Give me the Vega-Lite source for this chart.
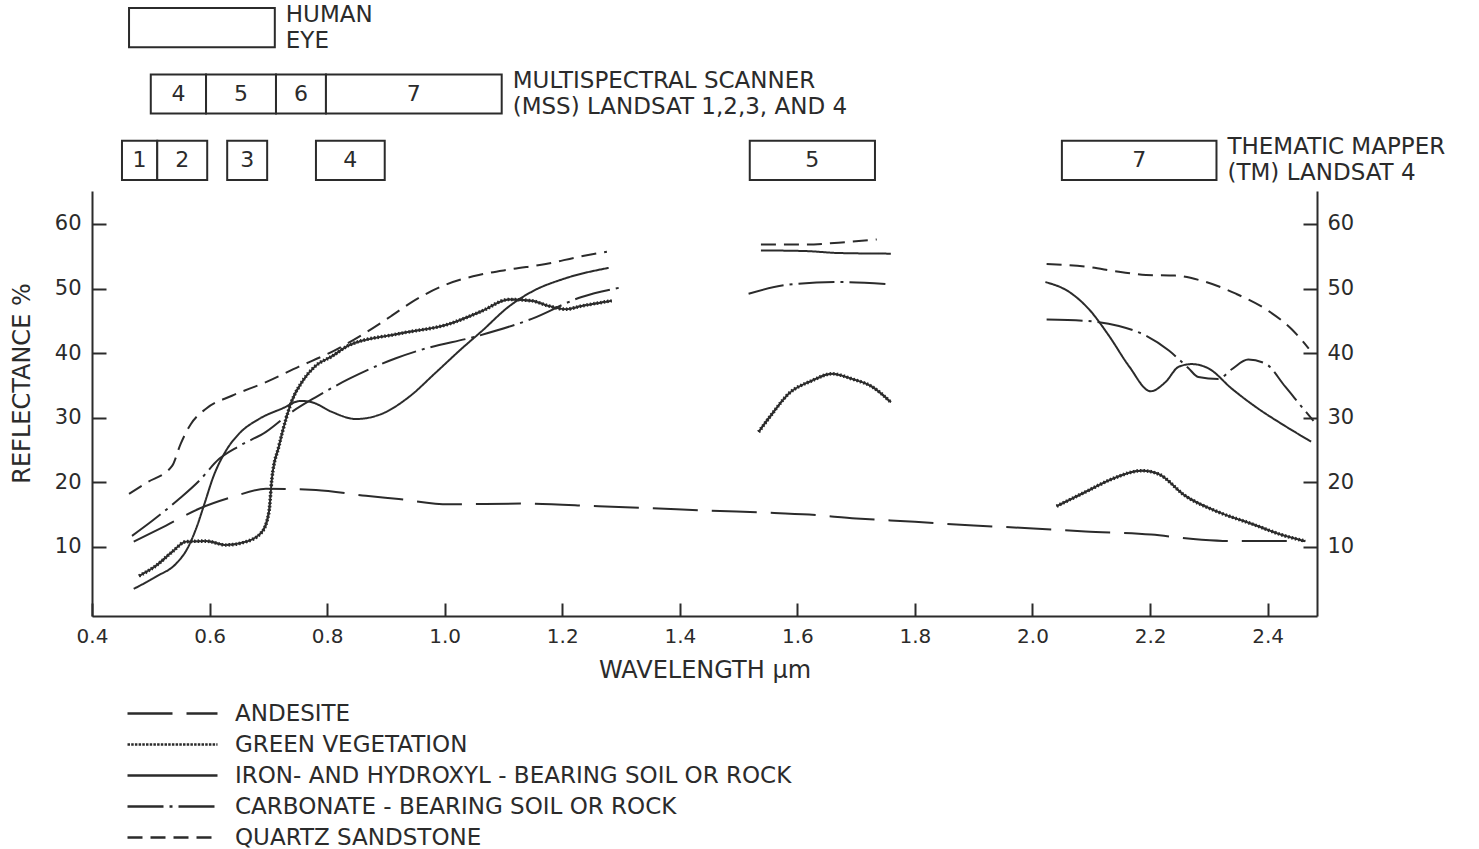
{
  "$schema": "https://vega.github.io/schema/vega-lite/v6.json",
  "background": "#ffffff",
  "padding": {"left": 10, "top": 3, "right": 5, "bottom": 2},
  "spacing": 5,
  "config": {
    "view": {"stroke": null},
    "font": "DejaVu Sans",
    "axis": {"domainColor": "#2b2b2b", "domainWidth": 2, "tickColor": "#2b2b2b", "tickWidth": 2, "labelColor": "#2b2b2b", "titleColor": "#2b2b2b", "labelFont": "DejaVu Sans", "titleFont": "DejaVu Sans", "labelFontSize": 20, "titleFontSize": 24, "titleFontWeight": "normal", "grid": false, "labelFlush": false}
  },
  "datasets": {
    "bands": [
      {"sensor": "HUMAN EYE", "band": "", "start": 0.463, "end": 0.711, "mid": 0.587},
      {"sensor": "MSS", "band": "4", "start": 0.500, "end": 0.594, "mid": 0.547},
      {"sensor": "MSS", "band": "5", "start": 0.594, "end": 0.713, "mid": 0.6535},
      {"sensor": "MSS", "band": "6", "start": 0.713, "end": 0.798, "mid": 0.7555},
      {"sensor": "MSS", "band": "7", "start": 0.798, "end": 1.097, "mid": 0.9475},
      {"sensor": "TM", "band": "1", "start": 0.451, "end": 0.511, "mid": 0.481},
      {"sensor": "TM", "band": "2", "start": 0.511, "end": 0.596, "mid": 0.5535},
      {"sensor": "TM", "band": "3", "start": 0.630, "end": 0.698, "mid": 0.664},
      {"sensor": "TM", "band": "4", "start": 0.781, "end": 0.898, "mid": 0.8395},
      {"sensor": "TM", "band": "5", "start": 1.519, "end": 1.732, "mid": 1.6255},
      {"sensor": "TM", "band": "7", "start": 2.050, "end": 2.313, "mid": 2.1815}
    ],
    "sensors": [
      {"sensor": "HUMAN EYE", "end": 0.711, "label": "HUMAN\nEYE"},
      {"sensor": "MSS", "end": 1.097, "label": "MULTISPECTRAL SCANNER\n(MSS) LANDSAT 1,2,3, AND 4"},
      {"sensor": "TM", "end": 2.313, "label": "THEMATIC MAPPER\n(TM) LANDSAT 4"}
    ],
    "curves": [
      {"m": "ANDESITE", "s": "a", "x": 0.471, "y": 10.8},
      {"m": "ANDESITE", "s": "a", "x": 0.526, "y": 13.3},
      {"m": "ANDESITE", "s": "a", "x": 0.582, "y": 15.9},
      {"m": "ANDESITE", "s": "a", "x": 0.638, "y": 17.7},
      {"m": "ANDESITE", "s": "a", "x": 0.696, "y": 19.0},
      {"m": "ANDESITE", "s": "a", "x": 0.781, "y": 18.8},
      {"m": "ANDESITE", "s": "a", "x": 0.866, "y": 17.9},
      {"m": "ANDESITE", "s": "a", "x": 0.922, "y": 17.4},
      {"m": "ANDESITE", "s": "a", "x": 1.007, "y": 16.6},
      {"m": "ANDESITE", "s": "a", "x": 1.131, "y": 16.7},
      {"m": "ANDESITE", "s": "a", "x": 1.262, "y": 16.3},
      {"m": "ANDESITE", "s": "a", "x": 1.350, "y": 16.0},
      {"m": "ANDESITE", "s": "a", "x": 1.450, "y": 15.6},
      {"m": "ANDESITE", "s": "a", "x": 1.550, "y": 15.3},
      {"m": "ANDESITE", "s": "a", "x": 1.620, "y": 15.0},
      {"m": "ANDESITE", "s": "a", "x": 1.700, "y": 14.4},
      {"m": "ANDESITE", "s": "a", "x": 1.800, "y": 13.9},
      {"m": "ANDESITE", "s": "a", "x": 1.900, "y": 13.3},
      {"m": "ANDESITE", "s": "a", "x": 1.994, "y": 12.9},
      {"m": "ANDESITE", "s": "a", "x": 2.090, "y": 12.4},
      {"m": "ANDESITE", "s": "a", "x": 2.202, "y": 11.9},
      {"m": "ANDESITE", "s": "a", "x": 2.288, "y": 11.1},
      {"m": "ANDESITE", "s": "a", "x": 2.339, "y": 10.9},
      {"m": "ANDESITE", "s": "a", "x": 2.400, "y": 10.9},
      {"m": "ANDESITE", "s": "a", "x": 2.464, "y": 10.9},

      {"m": "GREEN VEGETATION", "s": "a", "x": 0.480, "y": 5.5},
      {"m": "GREEN VEGETATION", "s": "a", "x": 0.509, "y": 7.1},
      {"m": "GREEN VEGETATION", "s": "a", "x": 0.536, "y": 9.2},
      {"m": "GREEN VEGETATION", "s": "a", "x": 0.560, "y": 10.8},
      {"m": "GREEN VEGETATION", "s": "a", "x": 0.594, "y": 10.9},
      {"m": "GREEN VEGETATION", "s": "a", "x": 0.628, "y": 10.3},
      {"m": "GREEN VEGETATION", "s": "a", "x": 0.662, "y": 10.8},
      {"m": "GREEN VEGETATION", "s": "a", "x": 0.689, "y": 12.3},
      {"m": "GREEN VEGETATION", "s": "a", "x": 0.701, "y": 15.4},
      {"m": "GREEN VEGETATION", "s": "a", "x": 0.706, "y": 20.5},
      {"m": "GREEN VEGETATION", "s": "a", "x": 0.718, "y": 25.6},
      {"m": "GREEN VEGETATION", "s": "a", "x": 0.730, "y": 29.8},
      {"m": "GREEN VEGETATION", "s": "a", "x": 0.740, "y": 32.6},
      {"m": "GREEN VEGETATION", "s": "a", "x": 0.757, "y": 35.5},
      {"m": "GREEN VEGETATION", "s": "a", "x": 0.780, "y": 38.0},
      {"m": "GREEN VEGETATION", "s": "a", "x": 0.808, "y": 39.5},
      {"m": "GREEN VEGETATION", "s": "a", "x": 0.837, "y": 41.2},
      {"m": "GREEN VEGETATION", "s": "a", "x": 0.922, "y": 43.0},
      {"m": "GREEN VEGETATION", "s": "a", "x": 1.007, "y": 44.5},
      {"m": "GREEN VEGETATION", "s": "a", "x": 1.063, "y": 46.5},
      {"m": "GREEN VEGETATION", "s": "a", "x": 1.109, "y": 48.3},
      {"m": "GREEN VEGETATION", "s": "a", "x": 1.148, "y": 48.1},
      {"m": "GREEN VEGETATION", "s": "a", "x": 1.177, "y": 47.3},
      {"m": "GREEN VEGETATION", "s": "a", "x": 1.206, "y": 46.8},
      {"m": "GREEN VEGETATION", "s": "a", "x": 1.233, "y": 47.3},
      {"m": "GREEN VEGETATION", "s": "a", "x": 1.284, "y": 48.1},
      {"m": "GREEN VEGETATION", "s": "b", "x": 1.534, "y": 27.8},
      {"m": "GREEN VEGETATION", "s": "b", "x": 1.557, "y": 30.6},
      {"m": "GREEN VEGETATION", "s": "b", "x": 1.585, "y": 33.7},
      {"m": "GREEN VEGETATION", "s": "b", "x": 1.624, "y": 35.7},
      {"m": "GREEN VEGETATION", "s": "b", "x": 1.659, "y": 36.8},
      {"m": "GREEN VEGETATION", "s": "b", "x": 1.693, "y": 36.0},
      {"m": "GREEN VEGETATION", "s": "b", "x": 1.727, "y": 34.8},
      {"m": "GREEN VEGETATION", "s": "b", "x": 1.759, "y": 32.4},
      {"m": "GREEN VEGETATION", "s": "c", "x": 2.041, "y": 16.3},
      {"m": "GREEN VEGETATION", "s": "c", "x": 2.090, "y": 18.5},
      {"m": "GREEN VEGETATION", "s": "c", "x": 2.135, "y": 20.5},
      {"m": "GREEN VEGETATION", "s": "c", "x": 2.186, "y": 21.8},
      {"m": "GREEN VEGETATION", "s": "c", "x": 2.214, "y": 21.3},
      {"m": "GREEN VEGETATION", "s": "c", "x": 2.260, "y": 17.9},
      {"m": "GREEN VEGETATION", "s": "c", "x": 2.316, "y": 15.4},
      {"m": "GREEN VEGETATION", "s": "c", "x": 2.372, "y": 13.6},
      {"m": "GREEN VEGETATION", "s": "c", "x": 2.430, "y": 11.7},
      {"m": "GREEN VEGETATION", "s": "c", "x": 2.464, "y": 10.9},

      {"m": "IRON- AND HYDROXYL - BEARING SOIL OR ROCK", "s": "a", "x": 0.471, "y": 3.5},
      {"m": "IRON- AND HYDROXYL - BEARING SOIL OR ROCK", "s": "a", "x": 0.509, "y": 5.4},
      {"m": "IRON- AND HYDROXYL - BEARING SOIL OR ROCK", "s": "a", "x": 0.543, "y": 7.4},
      {"m": "IRON- AND HYDROXYL - BEARING SOIL OR ROCK", "s": "a", "x": 0.562, "y": 9.7},
      {"m": "IRON- AND HYDROXYL - BEARING SOIL OR ROCK", "s": "a", "x": 0.577, "y": 12.8},
      {"m": "IRON- AND HYDROXYL - BEARING SOIL OR ROCK", "s": "a", "x": 0.590, "y": 16.3},
      {"m": "IRON- AND HYDROXYL - BEARING SOIL OR ROCK", "s": "a", "x": 0.607, "y": 21.0},
      {"m": "IRON- AND HYDROXYL - BEARING SOIL OR ROCK", "s": "a", "x": 0.628, "y": 24.9},
      {"m": "IRON- AND HYDROXYL - BEARING SOIL OR ROCK", "s": "a", "x": 0.650, "y": 27.5},
      {"m": "IRON- AND HYDROXYL - BEARING SOIL OR ROCK", "s": "a", "x": 0.684, "y": 29.8},
      {"m": "IRON- AND HYDROXYL - BEARING SOIL OR ROCK", "s": "a", "x": 0.723, "y": 31.4},
      {"m": "IRON- AND HYDROXYL - BEARING SOIL OR ROCK", "s": "a", "x": 0.755, "y": 32.6},
      {"m": "IRON- AND HYDROXYL - BEARING SOIL OR ROCK", "s": "a", "x": 0.774, "y": 32.4},
      {"m": "IRON- AND HYDROXYL - BEARING SOIL OR ROCK", "s": "a", "x": 0.808, "y": 30.9},
      {"m": "IRON- AND HYDROXYL - BEARING SOIL OR ROCK", "s": "a", "x": 0.849, "y": 29.8},
      {"m": "IRON- AND HYDROXYL - BEARING SOIL OR ROCK", "s": "a", "x": 0.893, "y": 30.6},
      {"m": "IRON- AND HYDROXYL - BEARING SOIL OR ROCK", "s": "a", "x": 0.939, "y": 33.2},
      {"m": "IRON- AND HYDROXYL - BEARING SOIL OR ROCK", "s": "a", "x": 0.985, "y": 37.0},
      {"m": "IRON- AND HYDROXYL - BEARING SOIL OR ROCK", "s": "a", "x": 1.029, "y": 40.7},
      {"m": "IRON- AND HYDROXYL - BEARING SOIL OR ROCK", "s": "a", "x": 1.063, "y": 43.4},
      {"m": "IRON- AND HYDROXYL - BEARING SOIL OR ROCK", "s": "a", "x": 1.109, "y": 47.2},
      {"m": "IRON- AND HYDROXYL - BEARING SOIL OR ROCK", "s": "a", "x": 1.148, "y": 49.5},
      {"m": "IRON- AND HYDROXYL - BEARING SOIL OR ROCK", "s": "a", "x": 1.206, "y": 51.6},
      {"m": "IRON- AND HYDROXYL - BEARING SOIL OR ROCK", "s": "a", "x": 1.279, "y": 53.2},
      {"m": "IRON- AND HYDROXYL - BEARING SOIL OR ROCK", "s": "b", "x": 1.538, "y": 55.9},
      {"m": "IRON- AND HYDROXYL - BEARING SOIL OR ROCK", "s": "b", "x": 1.614, "y": 55.8},
      {"m": "IRON- AND HYDROXYL - BEARING SOIL OR ROCK", "s": "b", "x": 1.670, "y": 55.5},
      {"m": "IRON- AND HYDROXYL - BEARING SOIL OR ROCK", "s": "b", "x": 1.759, "y": 55.4},
      {"m": "IRON- AND HYDROXYL - BEARING SOIL OR ROCK", "s": "c", "x": 2.022, "y": 51.0},
      {"m": "IRON- AND HYDROXYL - BEARING SOIL OR ROCK", "s": "c", "x": 2.062, "y": 49.5},
      {"m": "IRON- AND HYDROXYL - BEARING SOIL OR ROCK", "s": "c", "x": 2.096, "y": 46.8},
      {"m": "IRON- AND HYDROXYL - BEARING SOIL OR ROCK", "s": "c", "x": 2.130, "y": 42.7},
      {"m": "IRON- AND HYDROXYL - BEARING SOIL OR ROCK", "s": "c", "x": 2.164, "y": 38.0},
      {"m": "IRON- AND HYDROXYL - BEARING SOIL OR ROCK", "s": "c", "x": 2.201, "y": 34.1},
      {"m": "IRON- AND HYDROXYL - BEARING SOIL OR ROCK", "s": "c", "x": 2.226, "y": 35.5},
      {"m": "IRON- AND HYDROXYL - BEARING SOIL OR ROCK", "s": "c", "x": 2.249, "y": 37.9},
      {"m": "IRON- AND HYDROXYL - BEARING SOIL OR ROCK", "s": "c", "x": 2.271, "y": 38.3},
      {"m": "IRON- AND HYDROXYL - BEARING SOIL OR ROCK", "s": "c", "x": 2.300, "y": 37.6},
      {"m": "IRON- AND HYDROXYL - BEARING SOIL OR ROCK", "s": "c", "x": 2.339, "y": 34.5},
      {"m": "IRON- AND HYDROXYL - BEARING SOIL OR ROCK", "s": "c", "x": 2.384, "y": 31.4},
      {"m": "IRON- AND HYDROXYL - BEARING SOIL OR ROCK", "s": "c", "x": 2.430, "y": 28.7},
      {"m": "IRON- AND HYDROXYL - BEARING SOIL OR ROCK", "s": "c", "x": 2.474, "y": 26.3},

      {"m": "CARBONATE - BEARING SOIL OR ROCK", "s": "a", "x": 0.468, "y": 11.7},
      {"m": "CARBONATE - BEARING SOIL OR ROCK", "s": "a", "x": 0.502, "y": 14.0},
      {"m": "CARBONATE - BEARING SOIL OR ROCK", "s": "a", "x": 0.548, "y": 17.4},
      {"m": "CARBONATE - BEARING SOIL OR ROCK", "s": "a", "x": 0.582, "y": 20.2},
      {"m": "CARBONATE - BEARING SOIL OR ROCK", "s": "a", "x": 0.616, "y": 23.6},
      {"m": "CARBONATE - BEARING SOIL OR ROCK", "s": "a", "x": 0.650, "y": 25.6},
      {"m": "CARBONATE - BEARING SOIL OR ROCK", "s": "a", "x": 0.696, "y": 27.8},
      {"m": "CARBONATE - BEARING SOIL OR ROCK", "s": "a", "x": 0.740, "y": 30.9},
      {"m": "CARBONATE - BEARING SOIL OR ROCK", "s": "a", "x": 0.781, "y": 33.2},
      {"m": "CARBONATE - BEARING SOIL OR ROCK", "s": "a", "x": 0.837, "y": 36.0},
      {"m": "CARBONATE - BEARING SOIL OR ROCK", "s": "a", "x": 0.917, "y": 39.2},
      {"m": "CARBONATE - BEARING SOIL OR ROCK", "s": "a", "x": 0.956, "y": 40.4},
      {"m": "CARBONATE - BEARING SOIL OR ROCK", "s": "a", "x": 1.058, "y": 42.7},
      {"m": "CARBONATE - BEARING SOIL OR ROCK", "s": "a", "x": 1.148, "y": 45.3},
      {"m": "CARBONATE - BEARING SOIL OR ROCK", "s": "a", "x": 1.233, "y": 48.7},
      {"m": "CARBONATE - BEARING SOIL OR ROCK", "s": "a", "x": 1.296, "y": 50.1},
      {"m": "CARBONATE - BEARING SOIL OR ROCK", "s": "b", "x": 1.517, "y": 49.2},
      {"m": "CARBONATE - BEARING SOIL OR ROCK", "s": "b", "x": 1.585, "y": 50.6},
      {"m": "CARBONATE - BEARING SOIL OR ROCK", "s": "b", "x": 1.670, "y": 51.0},
      {"m": "CARBONATE - BEARING SOIL OR ROCK", "s": "b", "x": 1.752, "y": 50.7},
      {"m": "CARBONATE - BEARING SOIL OR ROCK", "s": "c", "x": 2.024, "y": 45.2},
      {"m": "CARBONATE - BEARING SOIL OR ROCK", "s": "c", "x": 2.090, "y": 45.0},
      {"m": "CARBONATE - BEARING SOIL OR ROCK", "s": "c", "x": 2.147, "y": 44.2},
      {"m": "CARBONATE - BEARING SOIL OR ROCK", "s": "c", "x": 2.193, "y": 42.7},
      {"m": "CARBONATE - BEARING SOIL OR ROCK", "s": "c", "x": 2.232, "y": 40.4},
      {"m": "CARBONATE - BEARING SOIL OR ROCK", "s": "c", "x": 2.265, "y": 37.7},
      {"m": "CARBONATE - BEARING SOIL OR ROCK", "s": "c", "x": 2.282, "y": 36.3},
      {"m": "CARBONATE - BEARING SOIL OR ROCK", "s": "c", "x": 2.316, "y": 36.0},
      {"m": "CARBONATE - BEARING SOIL OR ROCK", "s": "c", "x": 2.339, "y": 37.5},
      {"m": "CARBONATE - BEARING SOIL OR ROCK", "s": "c", "x": 2.367, "y": 39.0},
      {"m": "CARBONATE - BEARING SOIL OR ROCK", "s": "c", "x": 2.396, "y": 38.4},
      {"m": "CARBONATE - BEARING SOIL OR ROCK", "s": "c", "x": 2.430, "y": 34.8},
      {"m": "CARBONATE - BEARING SOIL OR ROCK", "s": "c", "x": 2.457, "y": 31.8},
      {"m": "CARBONATE - BEARING SOIL OR ROCK", "s": "c", "x": 2.478, "y": 29.5},

      {"m": "QUARTZ SANDSTONE", "s": "a", "x": 0.463, "y": 18.2},
      {"m": "QUARTZ SANDSTONE", "s": "a", "x": 0.492, "y": 19.9},
      {"m": "QUARTZ SANDSTONE", "s": "a", "x": 0.536, "y": 22.5},
      {"m": "QUARTZ SANDSTONE", "s": "a", "x": 0.551, "y": 26.0},
      {"m": "QUARTZ SANDSTONE", "s": "a", "x": 0.568, "y": 29.0},
      {"m": "QUARTZ SANDSTONE", "s": "a", "x": 0.594, "y": 31.4},
      {"m": "QUARTZ SANDSTONE", "s": "a", "x": 0.638, "y": 33.4},
      {"m": "QUARTZ SANDSTONE", "s": "a", "x": 0.696, "y": 35.5},
      {"m": "QUARTZ SANDSTONE", "s": "a", "x": 0.752, "y": 37.9},
      {"m": "QUARTZ SANDSTONE", "s": "a", "x": 0.808, "y": 40.2},
      {"m": "QUARTZ SANDSTONE", "s": "a", "x": 0.866, "y": 43.2},
      {"m": "QUARTZ SANDSTONE", "s": "a", "x": 0.910, "y": 45.8},
      {"m": "QUARTZ SANDSTONE", "s": "a", "x": 0.944, "y": 47.9},
      {"m": "QUARTZ SANDSTONE", "s": "a", "x": 1.002, "y": 50.6},
      {"m": "QUARTZ SANDSTONE", "s": "a", "x": 1.058, "y": 52.1},
      {"m": "QUARTZ SANDSTONE", "s": "a", "x": 1.114, "y": 53.0},
      {"m": "QUARTZ SANDSTONE", "s": "a", "x": 1.172, "y": 53.8},
      {"m": "QUARTZ SANDSTONE", "s": "a", "x": 1.228, "y": 54.9},
      {"m": "QUARTZ SANDSTONE", "s": "a", "x": 1.276, "y": 55.7},
      {"m": "QUARTZ SANDSTONE", "s": "b", "x": 1.538, "y": 56.8},
      {"m": "QUARTZ SANDSTONE", "s": "b", "x": 1.614, "y": 56.8},
      {"m": "QUARTZ SANDSTONE", "s": "b", "x": 1.670, "y": 57.1},
      {"m": "QUARTZ SANDSTONE", "s": "b", "x": 1.735, "y": 57.6},
      {"m": "QUARTZ SANDSTONE", "s": "c", "x": 2.024, "y": 53.8},
      {"m": "QUARTZ SANDSTONE", "s": "c", "x": 2.090, "y": 53.4},
      {"m": "QUARTZ SANDSTONE", "s": "c", "x": 2.147, "y": 52.6},
      {"m": "QUARTZ SANDSTONE", "s": "c", "x": 2.193, "y": 52.1},
      {"m": "QUARTZ SANDSTONE", "s": "c", "x": 2.243, "y": 52.0},
      {"m": "QUARTZ SANDSTONE", "s": "c", "x": 2.288, "y": 51.2},
      {"m": "QUARTZ SANDSTONE", "s": "c", "x": 2.346, "y": 49.2},
      {"m": "QUARTZ SANDSTONE", "s": "c", "x": 2.402, "y": 46.5},
      {"m": "QUARTZ SANDSTONE", "s": "c", "x": 2.441, "y": 43.7},
      {"m": "QUARTZ SANDSTONE", "s": "c", "x": 2.470, "y": 40.7}
    ]
  },
  "vconcat": [
    {
      "width": 1225,
      "height": 172,
      "data": {"name": "bands"},
      "layer": [
        {
          "mark": {"type": "rect", "fill": "#ffffff", "stroke": "#2b2b2b", "strokeWidth": 2},
          "encoding": {
            "x": {"field": "start", "type": "quantitative", "scale": {"domain": [0.4, 2.484], "nice": false, "zero": false}, "axis": null},
            "x2": {"field": "end"},
            "y": {"field": "sensor", "type": "nominal", "scale": {"domain": ["HUMAN EYE", "MSS", "TM"], "paddingInner": 0.41, "paddingOuter": 0}, "axis": null}
          }
        },
        {
          "mark": {"type": "text", "fontSize": 22, "color": "#2b2b2b"},
          "encoding": {
            "x": {"field": "mid", "type": "quantitative"},
            "y": {"field": "sensor", "type": "nominal"},
            "text": {"field": "band"}
          }
        },
        {
          "data": {"name": "sensors"},
          "mark": {"type": "text", "align": "left", "dx": 11, "dy": -13, "fontSize": 23, "lineHeight": 26, "lineBreak": "\n", "color": "#2b2b2b"},
          "encoding": {
            "x": {"field": "end", "type": "quantitative"},
            "y": {"field": "sensor", "type": "nominal"},
            "text": {"field": "label"}
          }
        }
      ]
    },
    {
      "width": 1225,
      "height": 425,
      "data": {"name": "curves"},
      "layer": [
        {
          "mark": {"type": "line", "interpolate": "monotone", "strokeWidth": 2, "color": "#2b2b2b"},
          "encoding": {
            "x": {"field": "x", "type": "quantitative", "scale": {"domain": [0.4, 2.484], "nice": false, "zero": false},
                  "axis": {"title": "WAVELENGTH µm", "values": [0.4, 0.6, 0.8, 1.0, 1.2, 1.4, 1.6, 1.8, 2.0, 2.2, 2.4], "format": ".1f", "tickSize": -13, "labelPadding": 23, "titlePadding": 12}},
            "y": {"field": "y", "type": "quantitative", "scale": {"domain": [-0.7, 65.1], "nice": false, "zero": false},
                  "axis": {"orient": "left", "title": "REFLECTANCE %", "titleY": 192, "values": [10, 20, 30, 40, 50, 60], "labelFontSize": 21, "tickSize": -14, "labelPadding": 25, "titlePadding": 20}},
            "strokeDash": {"field": "m", "type": "nominal",
              "scale": {"domain": ["ANDESITE", "GREEN VEGETATION", "IRON- AND HYDROXYL - BEARING SOIL OR ROCK", "CARBONATE - BEARING SOIL OR ROCK", "QUARTZ SANDSTONE"],
                        "range": [[45, 14], [2.5, 1.2], [1, 0], [36, 6, 3, 6], [15, 8]]},
              "legend": {"orient": "none", "legendX": 34, "legendY": 690, "title": null, "symbolType": "stroke", "symbolSize": 8100, "symbolStrokeWidth": 2.4, "symbolStrokeColor": "#2b2b2b", "labelFontSize": 23, "labelColor": "#2b2b2b", "labelOffset": 16, "labelLimit": 0, "clipHeight": 31, "rowPadding": 0}},
            "detail": {"field": "s"}
          }
        },
        {
          "transform": [{"filter": "datum.m === 'GREEN VEGETATION'"}],
          "mark": {"type": "line", "interpolate": "monotone", "strokeWidth": 1.8, "color": "#2b2b2b"},
          "encoding": {
            "x": {"field": "x", "type": "quantitative"},
            "y": {"field": "y", "type": "quantitative", "axis": null},
            "detail": {"field": "s"}
          }
        },
        {
          "transform": [{"filter": "datum.m === 'GREEN VEGETATION'"}],
          "mark": {"type": "line", "interpolate": "monotone", "strokeWidth": 3.6, "strokeDash": [1.5, 2], "color": "#2b2b2b"},
          "encoding": {
            "x": {"field": "x", "type": "quantitative"},
            "y": {"field": "y", "type": "quantitative", "axis": {"orient": "right", "title": null, "values": [10, 20, 30, 40, 50, 60], "labelFontSize": 21, "tickSize": -14, "labelPadding": 24}},
            "detail": {"field": "s"}
          }
        }
      ],
      "resolve": {"axis": {"y": "independent"}}
    }
  ]
}
